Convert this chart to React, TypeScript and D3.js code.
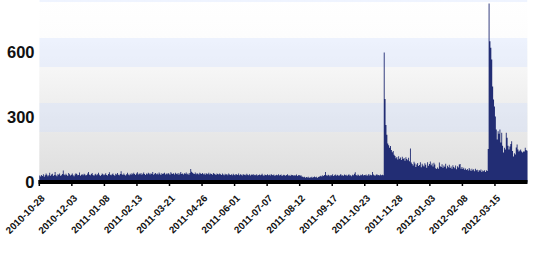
import React from "react";
import * as d3 from "d3";

// ---- DATA ----
const startDate = "2010-10-28";
const endDate = "2012-04-20";
const tickLabels = [
  "2010-10-28", "2010-12-03", "2011-01-08", "2011-02-13", "2011-03-21",
  "2011-04-26", "2011-06-01", "2011-07-07", "2011-08-12", "2011-09-17",
  "2011-10-23", "2011-11-28", "2012-01-03", "2012-02-08", "2012-03-15",
];
const yTicks = [0, 300, 600];

// daily values, one per day from startDate
const valuesA = [
  32,28,35,30,38,27,33,41,36,29,34,45,31,37,40,30,35,48,33,29,
  38,36,42,31,34,39,55,37,33,40,35,30,44,38,32,36,41,34,29,37,
  43,39,33,35,46,31,36,38,34,40,37,32,35,42,48,36,33,39,44,35,
  31,37,40,34,38,45,36,30,35,41,38,33,37,43,35,32,39,47,36,34,
  38,42,35,31,40,37,44,36,33,39,52,38,35,41,36,32,38,45,37,34,
  40,36,43,38,45,39,35,42,47,37,41,38,44,36,40,46,39,35,42,38,
  45,41,37,43,39,48,36,40,44,38,42,37,46,40,35,43,39,41,45,37,
  42,38,44,40,36,47,41,39,43,37,45,40,38,44,36,42,48,39,41,37,
  43,40,46,38,42,36,44,62,50,45,41,39,46,38,43,40,37,45,42,39,
  44,38,41,36,43,40,38,45,37,42,39,36,44,40,38,35,42,39,37,41,
  38,35,41,37,34,40,36,39,33,42,37,35,38,34,40,36,33,39,37,35,
  41,34,38,36,32,39,35,37,33,40,36,34,38,32,37,35,39,33,36,34,
  38,32,35,37,33,36,40,34,31,37,35,33,38,34,36,32,39,35,33,37,
  31,34,36,33,38,32,35,37,30,34,36,33,31,35,38,32,34,30,36,33,
  35,31,34,32,37,30,33,35,31,34,28,26,24,27,22,25,23,26,21,24,
  23,27,22,25,28,24,26,21,25,27,29,31,28,33,30,35,48,34,31,36,
  33,29,35,32,38,30,34,37,31,36,33,30,35,39,32,34,31,37,33,36,
  30,35,38,32,34,29,36,33,40,47,35,31,37,33,30,36,34,38,32,35,
  33,37,31,34,39,32,36,33,48,37,34,31,36,38,33,35,32,37,34,36,
  33,
];
const valuesB = [
  600,385,265,220,180,172,160,168,150,140,145,128,122,112,118,106,121,110,115,104,
  119,108,113,100,117,109,103,114,98,157,
  92,85,78,96,88,72,83,90,76,81,94,70,86,79,74,89,82,68,93,77,
  85,97,80,88,74,91,83,66,62,69,64,92,75,71,84,68,79,73,86,65,
  77,70,82,67,74,63,80,72,66,78,61,75,69,83,85,64,71,62,68,59,
  65,58,62,55,67,60,53,64,57,61,52,63,56,59,50,58,54,60,48,55,52,57,49,56,53,
];
const valuesC = [
  155,826,
  652,622,568,443,383,351,305,245,198,237,225,245,185,230,170,138,160,152,
  230,207,170,152,166,178,190,145,120,135,129,162,175,152,143,148,152,143,138,143,
  143,160,150,146,
];
const dailyValues = [...valuesA, ...valuesB, ...valuesC];

const W = 533;
const H = 255;
const DAY = 86400000;

export default function App() {
  const parse = d3.utcParse("%Y-%m-%d");
  const fmt = d3.utcFormat("%Y-%m-%d");
  const t0 = parse(startDate)!;
  const t1 = parse(endDate)!;

  const x = d3.scaleUtc().domain([t0, t1]).range([39.3, 527.5]);
  const y = d3.scaleLinear().domain([0, 600]).range([182.5, 52.5]);

  const plotLeft = x.range()[0];
  const plotRight = x.range()[1];
  const plotTop = 0;
  const plotBottom = 180;

  const p = d3.path();
  dailyValues.forEach((v, i) => {
    const d0 = new Date(t0.getTime() + i * DAY);
    const d1 = new Date(t0.getTime() + (i + 1) * DAY);
    const x0 = x(d0);
    const x1 = x(d1);
    const yt = y(v);
    p.rect(x0, yt, x1 - x0, y(0) - yt);
  });

  const bandHalf = 67;
  const bandCenters = [300, 600, 900];

  const tickDates = tickLabels.map((s) => parse(s)!);

  return (
    <svg
      width={W}
      height={H}
      style={{ position: "absolute", left: 0, top: 0, background: "#fff" }}
      fontFamily="'Liberation Sans', Arial, sans-serif"
    >
      <defs>
        <linearGradient id="bg" x1="0" y1="0" x2="0" y2="1">
          <stop offset="0" stopColor="#ffffff" />
          <stop offset="0.2" stopColor="#fdfdfd" />
          <stop offset="1" stopColor="#dedede" />
        </linearGradient>
        <clipPath id="plotClip">
          <rect x={plotLeft} y={plotTop} width={plotRight - plotLeft} height={plotBottom - plotTop} />
        </clipPath>
      </defs>
      <rect x={plotLeft} y={plotTop} width={plotRight - plotLeft} height={plotBottom - plotTop} fill="url(#bg)" />
      <g clipPath="url(#plotClip)">
        {bandCenters.map((c) => (
          <rect
            key={c}
            x={plotLeft}
            y={y(c + bandHalf)}
            width={plotRight - plotLeft}
            height={y(c - bandHalf) - y(c + bandHalf)}
            fill="rgb(205,222,255)"
            fillOpacity={0.32}
          />
        ))}
      </g>
      <path d={p.toString()} fill="#222d74" />
      <rect x={plotLeft - 1} y={180} width={plotRight - plotLeft + 1} height={4} fill="#000" />
      {tickDates.map((d, i) => (
        <rect key={i} x={x(d) - 0.75} y={184} width={1.5} height={2} fill="#000" />
      ))}
      {tickDates.map((d, i) => (
        <text
          key={"l" + i}
          transform={`translate(${x(d) + 6},${199}) rotate(-45)`}
          textAnchor="end"
          fontSize={9.8}
          fontWeight="bold"
          fill="#111"
        >
          {fmt(d)}
        </text>
      ))}
      {yTicks.map((v) => (
        <text
          key={v}
          x={34.5}
          y={y(v)}
          dy="0.36em"
          textAnchor="end"
          fontSize={16.5}
          fontWeight="bold"
          fill="#111"
        >
          {v}
        </text>
      ))}
    </svg>
  );
}
